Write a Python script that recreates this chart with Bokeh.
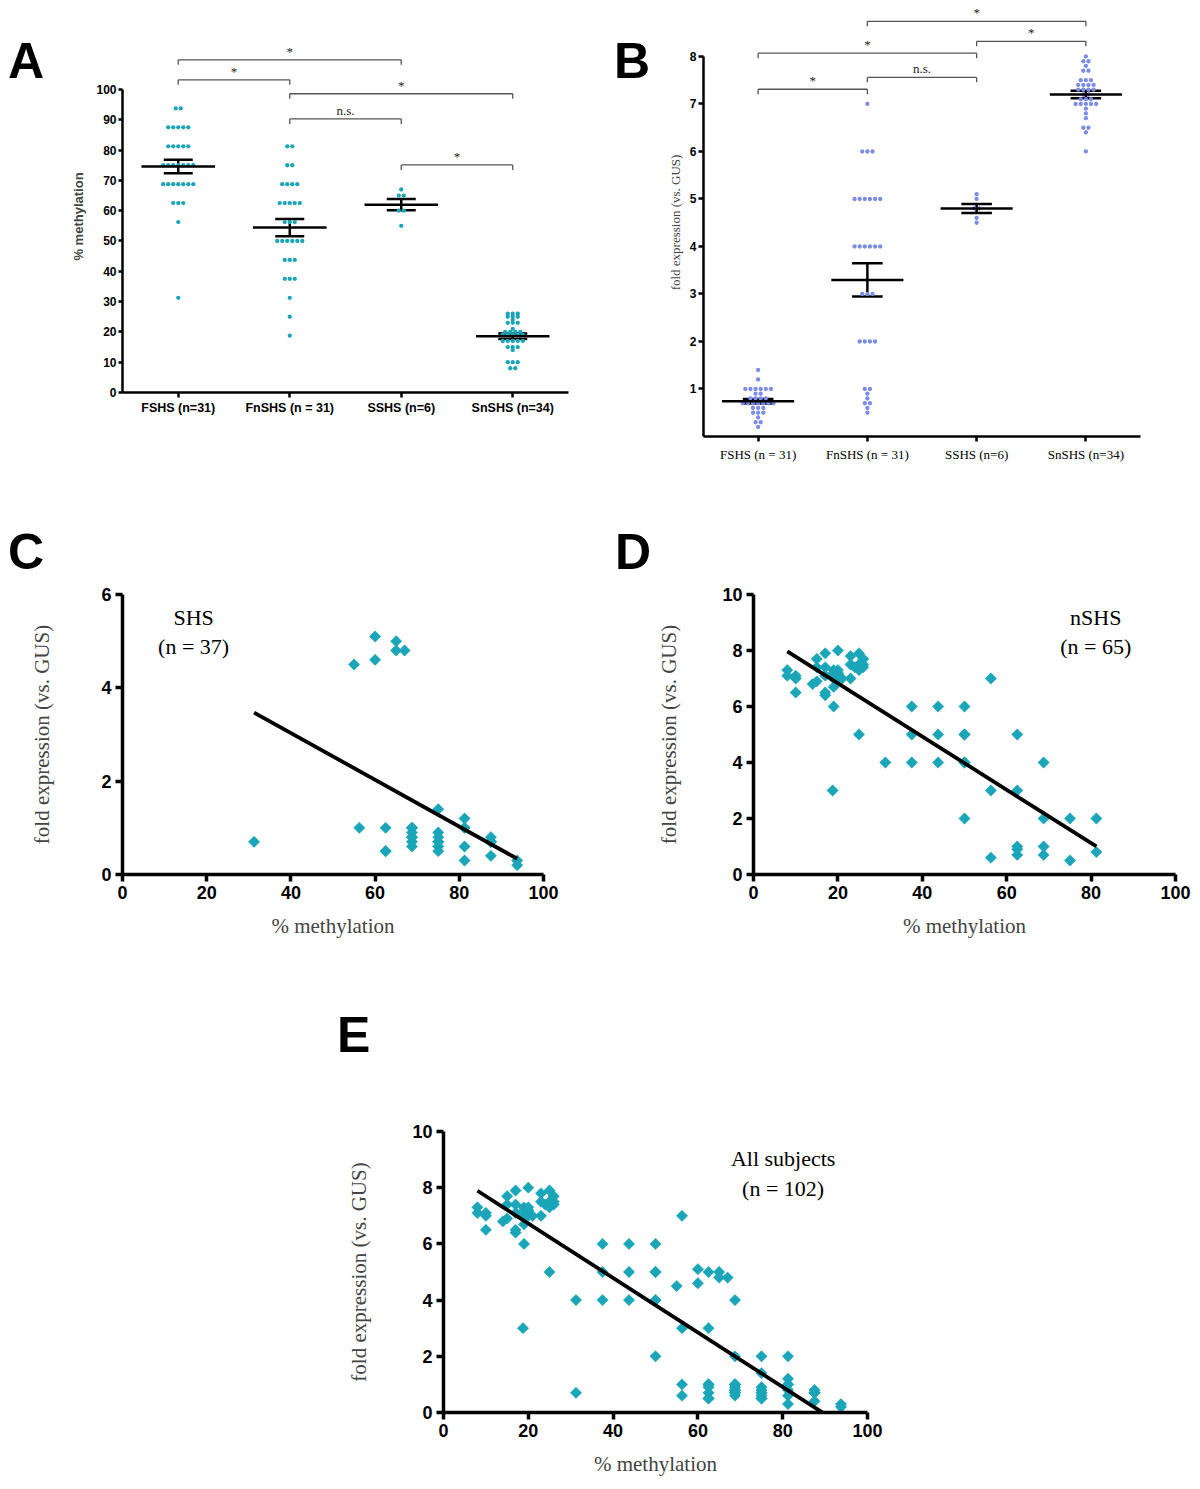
import numpy as np
from bokeh.plotting import figure
from bokeh.layouts import column, row
from bokeh.models import FixedTicker, Range1d, Div, Spacer
from bokeh.embed import file_html
from bokeh.resources import INLINE
from bokeh.core.properties import value

# ---------------- data ----------------
group_labels_A = ["FSHS (n=31)", "FnSHS (n = 31)", "SSHS (n=6)", "SnSHS (n=34)"]
group_labels_B = ["FSHS (n = 31)", "FnSHS (n = 31)", "SSHS (n=6)", "SnSHS (n=34)"]

# paired values per subject: % methylation, fold expression (vs. GUS)
fshs_meth = [93.75, 93.75, 87.5, 87.5, 87.5, 87.5, 87.5,
             81.25, 81.25, 81.25, 81.25, 81.25,
             75, 75, 75, 75, 75, 75, 75,
             68.75, 68.75, 68.75, 68.75, 68.75, 68.75, 68.75,
             62.5, 62.5, 62.5, 56.25, 31.25]
fshs_expr = [0.3, 0.2, 0.8, 0.7, 0.4, 0.7, 0.7,
             1.2, 1.0, 0.6, 0.3, 1.0,
             1.4, 0.9, 0.7, 0.6, 0.5, 0.8, 0.7,
             1.0, 0.9, 0.8, 0.7, 0.6, 1.0, 0.8,
             1.0, 0.5, 0.5, 1.0, 0.7]

fnshs_meth = [56.25, 37.5, 43.75, 50, 25, 37.5, 43.75, 50, 50, 62.5,
              31.25, 37.5, 43.75, 50, 50, 68.75, 18.75, 56.25, 62.5,
              50, 68.75, 75, 81.25, 56.25, 62.5, 62.5, 62.5, 68.75, 68.75, 75, 81.25]
fnshs_expr = [7, 6, 6, 6, 5, 5, 5, 5, 5, 5,
              4, 4, 4, 4, 4, 4, 3, 3, 3,
              2, 2, 2, 2, 0.6, 1.0, 0.9, 0.7, 1.0, 0.7, 0.5, 0.8]

sshs_meth = [55, 60, 60, 65, 65, 67]
sshs_expr = [4.5, 5.1, 4.6, 5.0, 4.8, 4.8]

snshs_meth = [8, 8, 10, 10, 10, 14, 15, 15, 15, 17, 17, 17, 17, 17,
              19, 19, 19, 19, 19, 20, 20, 20, 20, 21, 23, 23, 23, 24,
              25, 25, 25, 26, 26, 26]
snshs_expr = [7.3, 7.1, 7.0, 6.5, 7.1, 6.8, 7.7, 6.9, 7.4, 7.9, 6.4, 6.5, 7.4, 7.1,
              6.0, 7.3, 7.0, 6.7, 7.2, 8.0, 7.3, 7.0, 7.2, 7.0, 7.8, 7.5, 7.0, 7.4,
              7.9, 7.5, 7.3, 7.7, 7.5, 7.4]

# significance brackets
A_br_left = [1, 1, 2, 2, 3]
A_br_right = [3, 2, 4, 3, 4]
A_br_level = [109.8, 103.2, 98.6, 90.3, 75.1]
A_br_text = ["*", "*", "*", "n.s.", "*"]

B_br_left = [2, 3, 1, 2, 1]
B_br_right = [4, 4, 3, 3, 2]
B_br_level = [8.74, 8.32, 8.07, 7.56, 7.31]
B_br_text = ["*", "*", "*", "n.s.", "*"]

A_yticks = [0, 10, 20, 30, 40, 50, 60, 70, 80, 90, 100]
B_yticks = [1, 2, 3, 4, 5, 6, 7, 8]

TEAL = "#1aa5b9"
BLUE = "#7c8ce8"
SANS = "Liberation Sans"
SERIF = "Liberation Serif"


def make_fig(w, h, xr, yr, left, right, top, bottom):
    p = figure(width=w, height=h, x_range=Range1d(*xr), y_range=Range1d(*yr),
               output_backend="svg", toolbar_location=None, tools="", title=None,
               min_border_left=left, min_border_right=right,
               min_border_top=top, min_border_bottom=bottom)
    p.outline_line_color = None
    p.xgrid.visible = False
    p.ygrid.visible = False
    p.border_fill_color = "white"
    p.background_fill_color = "white"
    return p


def letter_div(t, w, h, left, top):
    html = ('<div style="font-family: \'Liberation Sans\', Arial, sans-serif; font-weight: bold; '
            'font-size: 50px; line-height: 50px; padding-left: %dpx; padding-top: %dpx; '
            'color: black;">%s</div>' % (left, top, t))
    return Div(text=html, width=w, height=h, margin=(0, 0, 0, 0))


def style_axis(ax, lw, tick_out, label_font, label_size, label_style, standoff):
    ax.axis_line_width = lw
    ax.axis_line_color = "black"
    ax.major_tick_line_width = lw
    ax.major_tick_line_color = "black"
    ax.major_tick_in = 0
    ax.major_tick_out = tick_out
    ax.minor_tick_line_color = None
    ax.major_label_text_font = label_font
    ax.major_label_text_font_size = label_size
    ax.major_label_text_font_style = label_style
    ax.major_label_text_color = "black"
    ax.major_label_standoff = standoff


def row_offsets(vals, step):
    vals = np.asarray(vals, float)
    off = np.zeros(len(vals))
    for v in np.unique(vals):
        idx = np.where(vals == v)[0]
        n = len(idx)
        off[idx] = (np.arange(n) - (n - 1) / 2) * step
    return off


def dot_panel(p, groups, step, color, half_mean, half_cap, lw):
    xs, ys = [], []
    mx0, mx1, my = [], [], []
    for i, vals in enumerate(groups):
        c = i + 1
        off = row_offsets(vals, step)
        xs += list(c + off)
        ys += list(vals)
        arr = np.asarray(vals, float)
        m = arr.mean()
        s = arr.std(ddof=1) / np.sqrt(len(arr))
        mx0.append(c - half_mean); mx1.append(c + half_mean); my.append(m)
        p.segment(x0=[c - half_cap, c - half_cap], y0=[m - s, m + s],
                  x1=[c + half_cap, c + half_cap], y1=[m - s, m + s],
                  line_color="black", line_width=lw)
        p.segment(x0=[c], y0=[m - s], x1=[c], y1=[m + s], line_color="black", line_width=lw)
    p.scatter(xs, ys, marker="circle", size=4.3, fill_color=color, line_color=None)
    p.segment(x0=mx0, y0=my, x1=mx1, y1=my, line_color="black", line_width=lw)


def brackets(p, left, right, level, texts, tick, font_size):
    hx0, hx1, hy = [], [], []
    vx, vy0, vy1 = [], [], []
    tx, ty = [], []
    for a, b, h in zip(left, right, level):
        hx0.append(a); hx1.append(b); hy.append(h)
        vx += [a, b]; vy0 += [h, h]; vy1 += [h - tick, h - tick]
        tx.append((a + b) / 2); ty.append(h)
    p.segment(x0=hx0, y0=hy, x1=hx1, y1=hy, line_color="#555555", line_width=1.3)
    p.segment(x0=vx, y0=vy0, x1=vx, y1=vy1, line_color="#555555", line_width=1.3)
    p.text(x=tx, y=ty, text=texts, text_font=value(SERIF), text_font_size=font_size,
           text_align="center", text_baseline="bottom", y_offset=-1, text_color="#222222")


# ---------------- Panel A ----------------
# canvas placed 32 px lower (spacer) so that it shares the border sizes of panel B
pA = make_fig(565, 392, (0.5, 4.5), (0, 116.17), 77, 42, 8, 32)
dot_panel(pA, [fshs_meth, fnshs_meth, sshs_meth, snshs_meth], 0.045, TEAL, 0.33, 0.13, 2.5)
brackets(pA, A_br_left, A_br_right, A_br_level, A_br_text, 1.65, "13px")
xa = pA.xaxis[0]
style_axis(xa, 2.5, 5, SANS, "12.5px", "bold", 3)
xa.ticker = FixedTicker(ticks=[1, 2, 3, 4])
xa.major_label_overrides = {i + 1: t for i, t in enumerate(group_labels_A)}
ya = pA.yaxis[0]
style_axis(ya, 2.5, 4, SANS, "12px", "bold", 2)
ya.ticker = FixedTicker(ticks=A_yticks)
ya.bounds = (0, 100)
ya.axis_label = "% methylation"
ya.axis_label_text_font = SANS
ya.axis_label_text_font_style = "bold"
ya.axis_label_text_font_size = "13px"
ya.axis_label_standoff = 7

# ---------------- Panel B ----------------
pB = make_fig(550, 468, (0.5, 4.5), (0, 9.01), 53, 60, 8, 32)
dot_panel(pB, [fshs_expr, fnshs_expr, sshs_expr, snshs_expr], 0.047, BLUE, 0.33, 0.14, 2.5)
brackets(pB, B_br_left, B_br_right, B_br_level, B_br_text, 0.105, "13px")
xb = pB.xaxis[0]
style_axis(xb, 2.5, 5, SERIF, "13px", "normal", 5)
xb.ticker = FixedTicker(ticks=[1, 2, 3, 4])
xb.major_label_overrides = {i + 1: t for i, t in enumerate(group_labels_B)}
yb = pB.yaxis[0]
style_axis(yb, 2.5, 5, SANS, "12px", "bold", 2)
yb.ticker = FixedTicker(ticks=B_yticks)
yb.bounds = (0, 8)
yb.axis_label = "fold expression (vs. GUS)"
yb.axis_label_text_font = SERIF
yb.axis_label_text_font_style = "normal"
yb.axis_label_text_font_size = "13px"
yb.axis_label_standoff = 4


# ---------------- scatter panels ----------------
def scatter_panel(p, mx, ey, ymax, ystep, note_x, note_y, note_lines, ylab_standoff):
    mx = np.asarray(mx, float)
    ey = np.asarray(ey, float)
    p.scatter(mx, ey, marker="square", angle=np.pi / 4, size=8,
              fill_color=TEAL, line_color=TEAL, line_width=0.5)
    k, b = np.polyfit(mx, ey, 1)
    x0, x1 = mx.min(), mx.max()
    p.line([x0, x1], [k * x0 + b, k * x1 + b], line_color="black", line_width=3.8)
    p.text(x=[note_x, note_x], y=[note_y[0], note_y[1]], text=note_lines,
           text_font=value(SERIF), text_font_size="22px", text_align="center",
           text_baseline="middle", text_color="black")
    xa = p.xaxis[0]
    style_axis(xa, 3.5, 7, SANS, "18px", "bold", 4)
    xa.ticker = FixedTicker(ticks=[0, 20, 40, 60, 80, 100])
    xa.axis_label = "% methylation"
    xa.axis_label_text_font = SERIF
    xa.axis_label_text_font_style = "normal"
    xa.axis_label_text_font_size = "21px"
    xa.axis_label_standoff = 12
    ya = p.yaxis[0]
    style_axis(ya, 3.5, 7, SANS, "18px", "bold", 4)
    ya.ticker = FixedTicker(ticks=list(np.arange(0, ymax + 0.01, ystep)))
    ya.axis_label = "fold expression (vs. GUS)"
    ya.axis_label_text_font = SERIF
    ya.axis_label_text_font_style = "normal"
    ya.axis_label_text_font_size = "21px"
    ya.axis_label_standoff = ylab_standoff


shs_meth = fshs_meth + sshs_meth
shs_expr = fshs_expr + sshs_expr
nshs_meth = fnshs_meth + snshs_meth
nshs_expr = fnshs_expr + snshs_expr
all_meth = shs_meth + nshs_meth
all_expr = shs_expr + nshs_expr

pC = make_fig(640, 382, (0, 100), (0, 6), 122, 97, 16, 86)
scatter_panel(pC, shs_meth, shs_expr, 6, 2, 16.9, (5.5, 4.89), ["SHS", "(n = 37)"], 44)

pD = make_fig(560, 382, (0, 100), (0, 10), 113, 25, 16, 86)
scatter_panel(pD, nshs_meth, nshs_expr, 10, 2, 81.1, (9.18, 8.14), ["nSHS", "(n = 65)"], 38)

pE = make_fig(900, 410, (0, 100), (0, 10), 443, 33, 61, 68)
scatter_panel(pE, all_meth, all_expr, 10, 2, 80.1, (9.03, 7.96), ["All subjects", "(n = 102)"], 38)

divA = letter_div("A", 45, 468, 8, 36)
divB = letter_div("B", 40, 468, 4, 36)
divC = letter_div("C", 610, 110, 8, 59)
divD = letter_div("D", 590, 110, 5, 59)
divE = letter_div("E", 1200, 110, 337, 50)

layout = column(row(divA, column(Spacer(width=565, height=32), pA), divB, pB),
                row(divC, divD),
                row(pC, pD),
                divE,
                pE)
open("out.html", "w").write(file_html(layout, INLINE))
